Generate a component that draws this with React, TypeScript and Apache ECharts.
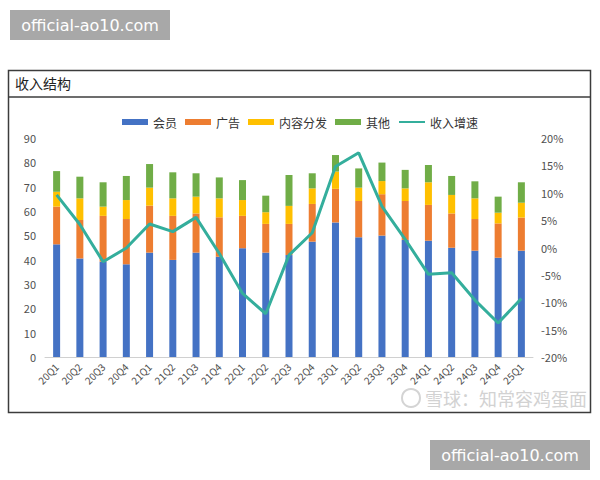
import React, { useEffect, useRef } from "react";
import * as echarts from "echarts";

const categories = ["20Q1","20Q2","20Q3","20Q4","21Q1","21Q2","21Q3","21Q4","22Q1","22Q2","22Q3","22Q4","23Q1","23Q2","23Q3","23Q4","24Q1","24Q2","24Q3","24Q4","25Q1"];
const member = [46.3,40.5,39.2,38.1,42.9,39.9,42.9,41.2,44.7,42.9,41.9,47.4,55.3,49.2,49.9,48.1,47.8,44.9,43.7,40.8,43.7];
const ads = [15.5,15.8,18.8,18.6,19.3,18.1,16.1,16.2,13.3,11.8,12.8,15.5,13.8,14.9,17.0,16.0,14.7,14.1,13.0,14.1,13.6];
const content = [6.1,8.9,3.8,7.8,7.4,7.2,6.9,7.8,6.5,4.8,7.4,6.4,7.1,5.5,5.4,5.2,9.3,7.6,8.5,4.4,6.1];
const other = [8.5,8.9,10.0,9.9,9.7,10.7,9.6,8.6,8.2,6.8,12.7,6.2,6.8,7.9,7.6,7.6,7.1,7.8,7.0,6.6,8.4];
const growth = [9.6,4.2,-2.6,-0.1,4.3,2.9,5.5,-1.1,-8.4,-12.1,-1.4,2.7,14.8,17.3,7.5,1.5,-4.9,-4.6,-9.6,-13.8,-9.3];

const seriesNames = ["会员", "广告", "内容分发", "其他", "收入增速"];
const colors = ["#4472C4", "#ED7D31", "#FFC000", "#70AD47", "#34AE9C"];
const FONT = "'Noto Sans CJK SC', 'Noto Sans', sans-serif";

export default function App() {
  const ref = useRef<HTMLDivElement>(null);
  useEffect(() => {
    if (!ref.current) return;
    const chart = echarts.init(ref.current, null, { renderer: "svg" });
    const barData = [member, ads, content, other];
    const barSeries = barData.map((d, i) => ({
      name: seriesNames[i],
      type: "bar",
      stack: "total",
      barWidth: 7,
      yAxisIndex: 0,
      itemStyle: { color: colors[i] },
      data: d,
    }));
    const wmBox = (x: number, y: number) => ({
      type: "group",
      x,
      y,
      children: [
        { type: "rect", shape: { x: 0, y: 0, width: 160, height: 30 }, style: { fill: "#a8a8a8" } },
        {
          type: "text",
          x: 80,
          y: 15,
          style: { text: "official-ao10.com", fill: "#ffffff", fontSize: 16, fontFamily: "'DejaVu Sans', sans-serif", align: "center", verticalAlign: "middle" },
        },
      ],
    });
    chart.setOption({
      animation: false,
      textStyle: { fontFamily: FONT },
      color: colors,
      graphic: [
        wmBox(10, 10),
        wmBox(430, 440),
        { type: "rect", shape: { x: 8.5, y: 70.5, width: 582, height: 342 }, style: { fill: "none", stroke: "#3c3c3c", lineWidth: 1.5 } },
        { type: "line", shape: { x1: 8.5, y1: 97, x2: 590.5, y2: 97 }, style: { stroke: "#3c3c3c", lineWidth: 1.5 } },
        { type: "text", x: 15, y: 83, style: { text: "收入结构", fill: "#222", fontSize: 14, fontFamily: FONT, verticalAlign: "middle" } },
        { type: "circle", shape: { cx: 411, cy: 398, r: 9 }, style: { fill: "none", stroke: "#d4d4d4", lineWidth: 2 }, z: 10 },
        { type: "text", x: 425, y: 398, style: { text: "雪球：知常容鸡蛋面", fill: "#d2d2d2", fontSize: 18, fontFamily: FONT, verticalAlign: "middle" }, z: 10 },
      ],
      legend: {
        top: 111,
        left: "center",
        itemWidth: 26,
        itemHeight: 6,
        itemGap: 8,
        textStyle: { fontSize: 12, color: "#333", fontFamily: FONT },
        data: seriesNames.map((n, i) =>
          i < 4 ? { name: n, icon: "rect" } : { name: n, itemStyle: { opacity: 0 } }
        ),
      },
      grid: { left: 45, right: 67, top: 138, bottom: 123 },
      xAxis: {
        type: "category",
        data: categories,
        axisLine: { lineStyle: { color: "#d0d0d0" } },
        axisTick: { show: false },
        axisLabel: { rotate: 45, fontSize: 10, color: "#505050", margin: 8, interval: 0 },
      },
      yAxis: [
        {
          type: "value",
          min: 0,
          max: 90,
          interval: 10,
          splitLine: { show: false },
          axisLine: { show: false },
          axisTick: { show: false },
          axisLabel: { fontSize: 11, color: "#505050", margin: 9 },
        },
        {
          type: "value",
          min: -20,
          max: 20,
          interval: 5,
          splitLine: { show: false },
          axisLine: { show: false },
          axisTick: { show: false },
          axisLabel: { fontSize: 11, color: "#505050", margin: 8, formatter: "{value}%" },
        },
      ],
      series: [
        ...barSeries,
        {
          name: seriesNames[4],
          type: "line",
          yAxisIndex: 1,
          symbol: "none",
          lineStyle: { color: colors[4], width: 3 },
          itemStyle: { color: colors[4] },
          data: growth,
          z: 5,
        },
      ],
    });
    return () => chart.dispose();
  }, []);
  return <div ref={ref} style={{ position: "absolute", left: 0, top: 0, width: 600, height: 480 }} />;
}
